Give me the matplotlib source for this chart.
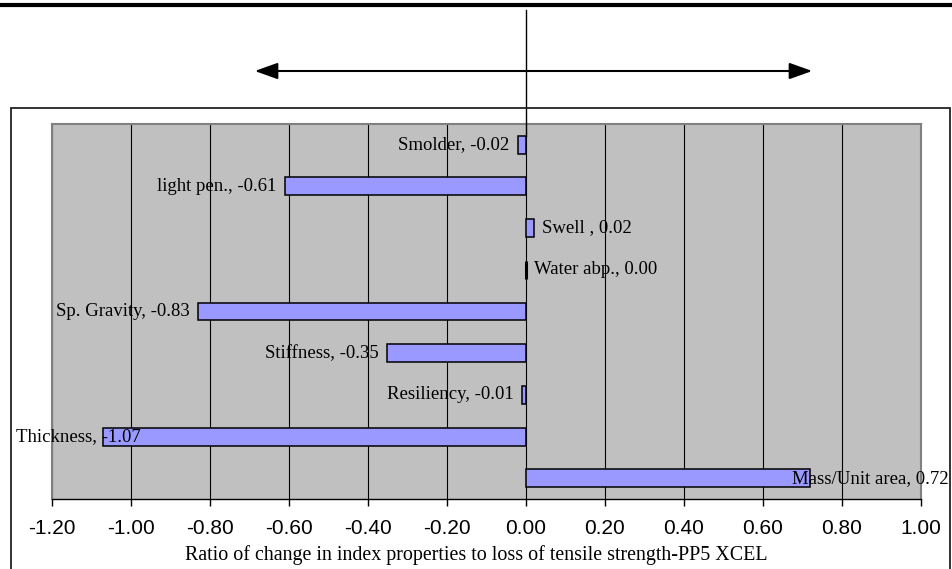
import matplotlib
matplotlib.use("Agg")
import matplotlib.pyplot as plt
from matplotlib.patches import Rectangle, FancyArrowPatch
from matplotlib.lines import Line2D

# Index properties (bottom to top) and their ratio of change
categories = ["Mass/Unit area", "Thickness", "Resiliency", "Stiffness",
              "Sp. Gravity", "Water abp.", "Swell ", "light pen.", "Smolder"]
values = [0.72, -1.07, -0.01, -0.35, -0.83, 0.00, 0.02, -0.61, -0.02]
xticks = [-1.20, -1.00, -0.80, -0.60, -0.40, -0.20, 0.00, 0.20, 0.40, 0.60, 0.80, 1.00]
xlabel = "Ratio of change in index properties to loss of tensile strength-PP5 XCEL"

W, H = 953, 569
SERIF = ["Liberation Serif", "DejaVu Serif"]
SANS = ["Liberation Sans", "DejaVu Sans"]


def fx(px):
    return px / W


def fy(py):
    return 1 - py / H


fig = plt.figure(figsize=(W / 100, H / 100), dpi=100)

# Chart frame
box_l, box_r, box_t = 10.7, 950.5, 107.7
fig.patches.append(Rectangle((fx(box_l), fy(580)), fx(box_r) - fx(box_l), (580 - box_t) / H,
                             transform=fig.transFigure, fill=False, edgecolor="#222222",
                             linewidth=1.3, clip_on=False))

# Plot area
pl, pr, pt, pb = 51.7, 920.7, 123.7, 499.3
ax = fig.add_axes([fx(pl), fy(pb), fx(pr) - fx(pl), (pb - pt) / H])
ax.set_facecolor("#C0C0C0")

ypos = list(range(len(categories)))
bar_h = 0.43
edge_w = [2.2 if v == 0 else 1.1 for v in values]
ax.barh(ypos, values, height=bar_h, color="#9999FF", edgecolor="black",
        linewidth=edge_w, zorder=3)

ax.set_xlim(-1.2, 1.0)
ax.set_ylim(-0.5, len(categories) - 0.5)
ax.set_xticks(xticks)
ax.set_xticklabels([f"{t:.2f}" for t in xticks], family=SANS, fontsize=15)
ax.set_yticks([])
ax.xaxis.grid(True, color="black", linewidth=0.8)
ax.set_axisbelow(True)
for side in ("left", "top", "right"):
    ax.spines[side].set_color("#808080")
    ax.spines[side].set_linewidth(1.5)
ax.spines["bottom"].set_color("black")
ax.spines["bottom"].set_linewidth(1.0)
ax.tick_params(axis="x", direction="out", length=5, width=1, color="black", pad=9)

fig.text(fx(476), fy(555), xlabel, family=SERIF, fontsize=14.4, ha="center", va="center")

# Data labels: "Category, value" just outside each bar end
labels = []
for i, (c, v) in enumerate(zip(categories, values)):
    off = -6 if v < 0 else 6
    t = ax.annotate(f"{c}, {v:.2f}", xy=(v, i), xytext=(off, 0), textcoords="offset points",
                    ha="right" if v < 0 else "left", va="center", family=SERIF,
                    fontsize=13.5, zorder=6, annotation_clip=False)
    labels.append(t)

# Keep labels inside the chart frame
fig.canvas.draw()
renderer = fig.canvas.get_renderer()
for t in labels:
    bb = t.get_window_extent(renderer)
    dx = 0
    if bb.x0 < box_l + 5:
        dx = box_l + 5 - bb.x0
    elif bb.x1 > box_r - 1.5:
        dx = box_r - 1.5 - bb.x1
    if dx:
        ox, oy = t.xyann
        t.xyann = (ox + dx * 72 / fig.dpi, oy)

# Zero reference line rising above the chart
top_disp = fig.transFigure.transform((0, fy(10)))[1]
y_top = ax.transData.inverted().transform((0, top_disp))[1]
ax.plot([0, 0], [ypos[-1] + bar_h / 2, y_top], color="black", linewidth=1.0,
        clip_on=False, zorder=5)

# Heavy rule across the top
fig.lines.append(Line2D([0, 1], [fy(5), fy(5)], transform=fig.transFigure,
                        color="black", linewidth=3))

# Double-headed arrow
fig.patches.append(FancyArrowPatch((fx(252), fy(71)), (fx(815), fy(71)),
                                   transform=fig.transFigure,
                                   arrowstyle="<|-|>,head_length=1.4,head_width=0.5",
                                   mutation_scale=10, color="black", linewidth=1.5))

fig.savefig("out.png", dpi=100)
